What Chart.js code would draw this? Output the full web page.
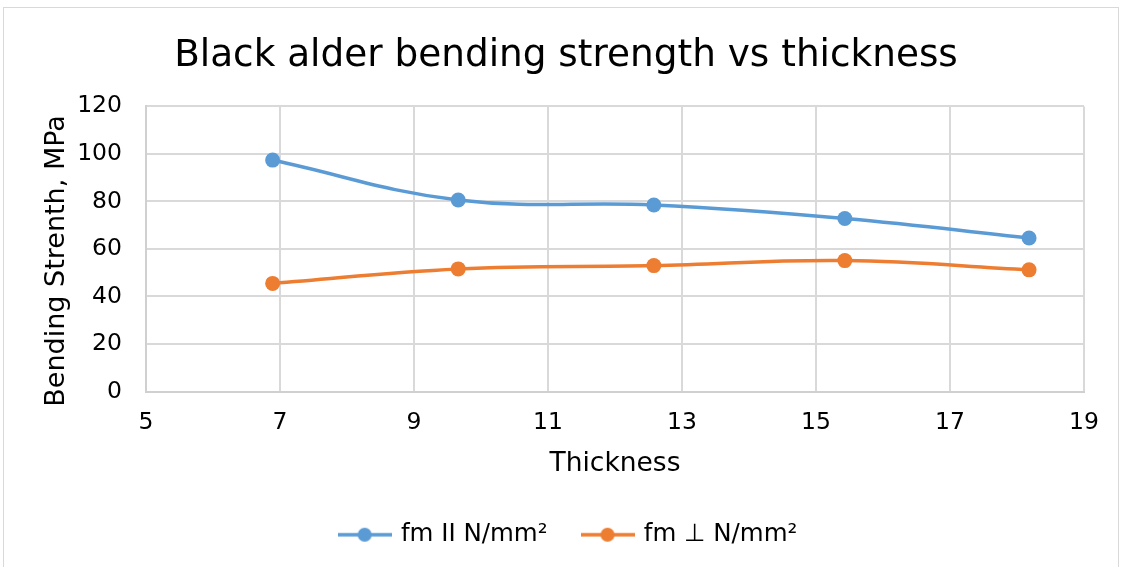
<!DOCTYPE html>
<html>
<head>
<meta charset="utf-8">
<script src="https://cdn.jsdelivr.net/npm/chart.js@4.4.1/dist/chart.umd.min.js"></script>
<style>
  html, body { margin: 0; padding: 0; background: #fff; }
  #wrap { width: 1124px; height: 567px; }
</style>
</head>
<body>
<div id="wrap"><canvas id="chart" width="1124" height="567"></canvas></div>
<script>
// values
const thickness = [6.89, 9.66, 12.58, 15.43, 18.18];
const fmParallel = [97.4, 80.6, 78.5, 72.8, 64.6];
const fmPerp = [45.5, 51.6, 53.0, 55.1, 51.2];
const seriesNames = ['fm II N/mm²', 'fm ⊥ N/mm²'];
const seriesColors = ['#5b9bd5', '#ed7d31'];

const FONT = 'DejaVu Sans, Verdana, sans-serif';

// little "line with a dot" swatch for the legend, like Excel draws it
function swatch(color) {
  const c = document.createElement('canvas');
  c.width = 54; c.height = 16;
  const g = c.getContext('2d');
  g.strokeStyle = color;
  g.lineWidth = 3.5;
  g.beginPath(); g.moveTo(0, 8); g.lineTo(54, 8); g.stroke();
  g.fillStyle = color;
  g.beginPath(); g.arc(27, 8, 7, 0, Math.PI * 2); g.fill();
  return c;
}
const swatches = seriesColors.map(swatch);

const frame = {
  id: 'frame',
  beforeDraw(chart) {
    const ctx = chart.ctx;
    ctx.save();
    ctx.strokeStyle = '#d9d9d9';
    ctx.lineWidth = 1;
    ctx.strokeRect(3.5, 7.5, 1115, 600);
    ctx.restore();
  }
};

// Excel centres title/legend on the whole chart and sits the y title a bit low
const nudge = {
  id: 'nudge',
  afterLayout(chart) {
    chart.legend.left += 27;
    chart.legend.right += 27;
    chart.titleBlock.left += 24;
    chart.titleBlock.right += 24;
    const ys = chart.scales.y;
    if (!ys._nudged) {
      const orig = ys.drawTitle.bind(ys);
      ys.drawTitle = function () {
        chart.ctx.save();
        chart.ctx.translate(0, 12);
        orig();
        chart.ctx.restore();
      };
      ys._nudged = true;
    }
  }
};

const toXY = (xs, ys) => xs.map((x, i) => ({ x: x, y: ys[i] }));

function series(i, ys) {
  return {
    label: seriesNames[i],
    data: toXY(thickness, ys),
    borderColor: seriesColors[i],
    backgroundColor: seriesColors[i],
    borderWidth: 3.5,
    pointRadius: 7.5,
    pointBorderWidth: 0,
    pointHoverRadius: 7.5,
    tension: 0.4,
    fill: false
  };
}

new Chart(document.getElementById('chart'), {
  type: 'line',
  data: {
    datasets: [series(0, fmParallel), series(1, fmPerp)]
  },
  options: {
    responsive: false,
    animation: false,
    events: [],
    layout: { padding: { left: 0, right: 40, top: 0, bottom: 10 } },
    plugins: {
      title: {
        display: true,
        text: 'Black alder bending strength vs thickness',
        color: '#000',
        font: { family: FONT, size: 37.4, weight: 'normal' },
        padding: { top: 33.5, bottom: 28 }
      },
      legend: {
        position: 'bottom',
        labels: {
          usePointStyle: true,
          pointStyleWidth: 48,
          padding: 36,
          color: '#000',
          font: { family: FONT, size: 24.5 },
          generateLabels(chart) {
            const items = Chart.defaults.plugins.legend.labels.generateLabels(chart);
            items.forEach((it, i) => { it.pointStyle = swatches[i]; });
            return items;
          }
        }
      },
      tooltip: { enabled: false }
    },
    scales: {
      x: {
        type: 'linear',
        min: 5,
        max: 19,
        ticks: { stepSize: 2, padding: 17, color: '#000', font: { family: FONT, size: 23.5 } },
        grid: { color: '#d9d9d9', lineWidth: 2, drawTicks: false },
        border: { color: '#d0d0d0', width: 2 },
        title: {
          display: true,
          text: 'Thickness',
          color: '#000',
          font: { family: FONT, size: 26.5 },
          padding: { top: 0, bottom: 6 }
        },
        afterFit(scale) { scale.height = 95; }
      },
      y: {
        min: 0,
        max: 120,
        ticks: { stepSize: 20, padding: 24, color: '#000', font: { family: FONT, size: 23.5 } },
        grid: { color: '#d9d9d9', lineWidth: 2, drawTicks: false },
        border: { color: '#d0d0d0', width: 2 },
        title: {
          display: true,
          text: 'Bending Strenth, MPa',
          color: '#000',
          font: { family: FONT, size: 27 },
          padding: { top: 41, bottom: 0 }
        },
        afterFit(scale) { scale.width = 146; }
      }
    }
  },
  plugins: [frame, nudge]
});
</script>
</body>
</html>
